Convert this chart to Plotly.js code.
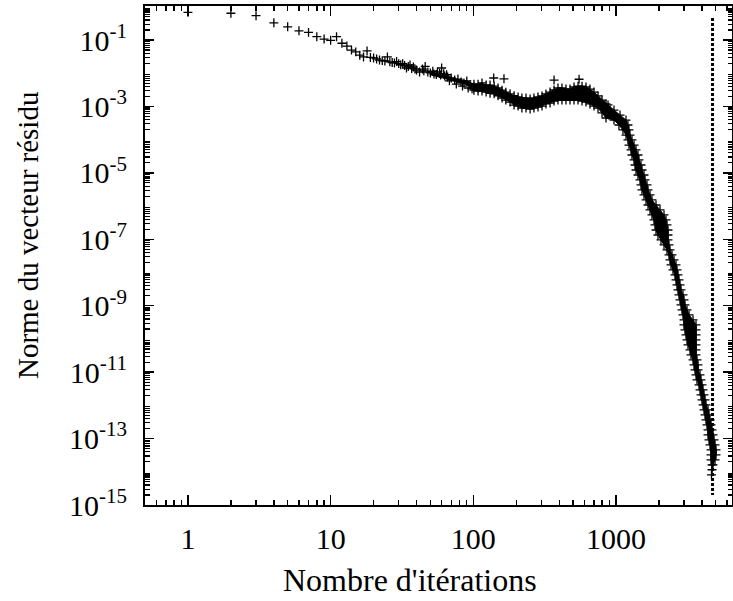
<!DOCTYPE html>
<html>
<head>
<meta charset="utf-8">
<script src="https://cdn.plot.ly/plotly-3.0.1.min.js"></script>
<style>html,body{margin:0;padding:0;background:#fff}#chart{width:733px;height:601px}</style>
</head>
<body>
<div id="chart"></div>
<script>
// Early iterations (individually visible crosses)
const earlyIter = [1,2,3,4,5,6,7,8,9,10,11,12,13,14,15,16,17,18,19,20,
  21,22,23,24,25,26,27,28,29,30,31,32,33,34,35,36,37,38,39,40,
  42,44,45,46,48,50,52,53,55,56,58,59,60,62,63,65,66,68,70,74,
  76,78,82,84,86,90,92,95,98];
const earlyRes = [0.68,0.64,0.54,0.33,0.25,0.19,0.17,0.126,0.107,0.098,0.126,0.080,0.066,0.050,0.044,0.035,0.031,0.047,0.030,0.029,
  0.027,0.025,0.024,0.0234,0.031,0.022,0.021,0.0204,0.0225,0.0195,0.0180,0.0195,0.0170,0.0144,0.0160,0.0177,0.0140,0.0154,0.0135,0.0125,
  0.0109,0.0134,0.0118,0.0160,0.0109,0.0102,0.0115,0.0095,0.0092,0.0109,0.0098,0.0089,0.0144,0.0096,0.0083,0.0090,0.0077,0.0059,0.0072,0.0063,
  0.0047,0.0067,0.0055,0.0041,0.0051,0.0059,0.0036,0.0044,0.0034];

// Plateau region (upper / middle / lower of the dense band), plus a few spikes
const plateauIter = [
  101,101,101, 108,108,108, 115,115,115, 123,123,123, 131,131,131,
  140,140,140, 149,149,149, 159,159,159, 169,169,169, 181,181,181,
  193,193,193, 206,206,206, 219,219,219, 234,234,234, 250,250,250,
  266,266,266, 284,284,284, 303,303,303, 323,323,323, 345,345,345,
  368,368,368, 392,392,392, 418,418,418, 446,446,446, 476,476,476,
  508,508,508, 542,542,542, 578,578,578, 616,616,616, 657,657,657,
  701,701,701, 748,748,748, 798,798,798, 851,851,851,
  139, 164, 368, 551];
const plateauRes = [
  4.7e-3,3.85e-3,3.1e-3, 4.7e-3,3.6e-3,2.9e-3, 5.1e-3,3.85e-3,2.9e-3, 4.4e-3,3.35e-3,2.7e-3, 4.4e-3,3.35e-3,2.5e-3,
  4.1e-3,3.1e-3,2.4e-3, 3.6e-3,2.7e-3,2.1e-3, 3.1e-3,2.4e-3,1.8e-3, 2.7e-3,2.1e-3,1.56e-3, 2.4e-3,1.8e-3,1.36e-3,
  2.1e-3,1.56e-3,1.1e-3, 1.93e-3,1.4e-3,1.03e-3, 1.8e-3,1.27e-3,9.0e-4, 1.8e-3,1.27e-3,9.0e-4, 1.68e-3,1.19e-3,8.4e-4,
  1.8e-3,1.27e-3,9.0e-4, 1.93e-3,1.36e-3,9.6e-4, 2.07e-3,1.46e-3,1.03e-3, 2.37e-3,1.68e-3,1.19e-3, 2.72e-3,1.86e-3,1.27e-3,
  3.13e-3,2.14e-3,1.46e-3, 3.6e-3,2.37e-3,1.56e-3, 3.6e-3,2.37e-3,1.56e-3, 3.35e-3,2.3e-3,1.56e-3, 3.35e-3,2.3e-3,1.56e-3,
  3.85e-3,2.45e-3,1.56e-3, 4.1e-3,2.54e-3,1.56e-3, 4.1e-3,2.45e-3,1.46e-3, 3.85e-3,2.3e-3,1.36e-3, 3.35e-3,2.0e-3,1.19e-3,
  2.72e-3,1.68e-3,1.03e-3, 2.07e-3,1.36e-3,9.0e-4, 1.56e-3,1.03e-3,6.4e-4, 1.19e-3,7.3e-4,4.5e-4,
  7.2e-3, 6.8e-3, 6.25e-3, 6.6e-3];

// Steep convergence region (left / right edges of the band at each level)
const steepIter = [
  824,879, 851,908,968, 893,976,1067, 968,1067,1175, 1049,1129,1213, 1119,1175,1233,
  1175,1253, 1213,1294, 1233,1337, 1274,1381, 1294,1426, 1337,1449, 1359,1497, 1381,1521,
  1426,1571, 1473,1597, 1497,1649, 1521,1676, 1571,1731, 1623,1787,
  1676,1787,1907, 1731,1876,2034, 1787,1969,2170, 1846,2034,2241, 1876,2067,2277, 1907,2101,2314,
  1969,2135,2314, 2067,2188,2314,
  2170,2352, 2277,2390, 2352,2469, 2390,2550, 2429,2633, 2509,2676, 2591,2720, 2633,2764,
  2676,2809, 2720,2855, 2764,2948, 2809,2996, 2855,3045, 2901,3145, 2948,3248,
  2996,3222,3465, 2996,3301,3637, 3045,3328,3637, 3095,3355,3637, 3145,3382,3637, 3196,3409,3637,
  3301,3637, 3355,3637, 3465,3696, 3522,3756, 3579,3756, 3637,3879, 3696,3942, 3817,4006,
  3879,4072, 3942,4139, 4006,4206, 4072,4274, 4139,4414, 4206,4486, 4274,4559, 4344,4634,
  4414,4709, 4414,4786, 4486,4864, 4559,4943, 4634,5023, 4634,5023, 4634,4943, 4709,4786,
  4709, 4670];
const steepRes = [
  1.11e-3,1.11e-3, 7.8e-4,7.8e-4,7.8e-4, 5.5e-4,5.5e-4,5.5e-4, 3.9e-4,3.9e-4,3.9e-4, 2.77e-4,2.77e-4,2.77e-4, 1.96e-4,1.96e-4,1.96e-4,
  1.38e-4,1.38e-4, 9.8e-5,9.8e-5, 6.9e-5,6.9e-5, 4.9e-5,4.9e-5, 3.46e-5,3.46e-5, 2.45e-5,2.45e-5, 1.73e-5,1.73e-5, 1.22e-5,1.22e-5,
  8.65e-6,8.65e-6, 6.12e-6,6.12e-6, 4.33e-6,4.33e-6, 3.06e-6,3.06e-6, 2.17e-6,2.17e-6, 1.53e-6,1.53e-6,
  1.08e-6,1.08e-6,1.08e-6, 7.66e-7,7.66e-7,7.66e-7, 5.42e-7,5.42e-7,5.42e-7, 3.83e-7,3.83e-7,3.83e-7, 2.71e-7,2.71e-7,2.71e-7, 1.91e-7,1.91e-7,1.91e-7,
  1.35e-7,1.35e-7,1.35e-7, 9.58e-8,9.58e-8,9.58e-8,
  6.77e-8,6.77e-8, 4.79e-8,4.79e-8, 3.39e-8,3.39e-8, 2.40e-8,2.40e-8, 1.69e-8,1.69e-8, 1.20e-8,1.20e-8, 8.48e-9,8.48e-9, 6.00e-9,6.00e-9,
  4.24e-9,4.24e-9, 3.00e-9,3.00e-9, 2.12e-9,2.12e-9, 1.50e-9,1.50e-9, 1.06e-9,1.06e-9, 7.50e-10,7.50e-10, 5.30e-10,5.30e-10,
  3.75e-10,3.75e-10,3.75e-10, 2.65e-10,2.65e-10,2.65e-10, 1.87e-10,1.87e-10,1.87e-10, 1.33e-10,1.33e-10,1.33e-10, 9.38e-11,9.38e-11,9.38e-11, 6.63e-11,6.63e-11,6.63e-11,
  4.69e-11,4.69e-11, 3.32e-11,3.32e-11, 2.35e-11,2.35e-11, 1.66e-11,1.66e-11, 1.17e-11,1.17e-11, 8.30e-12,8.30e-12, 5.87e-12,5.87e-12, 4.15e-12,4.15e-12,
  2.93e-12,2.93e-12, 2.07e-12,2.07e-12, 1.47e-12,1.47e-12, 1.04e-12,1.04e-12, 7.34e-13,7.34e-13, 5.19e-13,5.19e-13, 3.67e-13,3.67e-13, 2.60e-13,2.60e-13,
  1.84e-13,1.84e-13, 1.30e-13,1.30e-13, 9.18e-14,9.18e-14, 6.49e-14,6.49e-14, 4.59e-14,4.59e-14, 3.25e-14,3.25e-14, 2.30e-14,2.30e-14, 1.62e-14,1.62e-14,
  1.15e-14, 8.12e-15];

// Envelope of the dense point cloud (upper/right edge and lower/left edge)
const bandUpperIter = [50,70,90,101,108,115,123,131,140,149,159,169,181,193,206,219,234,250,266,284,303,323,345,368,392,418,446,476,508,542,578,616,657,701,748,798,851,
  879,968,1067,1175,1213,1233,1253,1294,1337,1381,1426,1449,1497,1521,1571,1597,1649,1676,1731,1787,1907,2034,2170,2241,2277,2314,2314,2314,
  2352,2390,2469,2550,2633,2676,2720,2764,2809,2855,2948,2996,3045,3145,3248,3465,3637,3637,3637,3637,3637,3637,3637,3696,3756,3756,
  3879,3942,4006,4072,4139,4206,4274,4414,4486,4559,4634,4709,4786,4864,4943,5023,5023,4943,4786,4709,4670];
const bandUpperRes = [0.0105,0.0072,0.0059,4.7e-3,4.7e-3,5.1e-3,4.4e-3,4.4e-3,4.1e-3,3.6e-3,3.1e-3,2.7e-3,2.4e-3,2.1e-3,1.93e-3,1.8e-3,1.8e-3,1.68e-3,1.8e-3,1.93e-3,2.07e-3,2.37e-3,2.72e-3,3.13e-3,3.6e-3,3.6e-3,3.35e-3,3.35e-3,3.85e-3,4.1e-3,4.1e-3,3.85e-3,3.35e-3,2.72e-3,2.07e-3,1.56e-3,1.19e-3,
  1.11e-3,7.8e-4,5.5e-4,3.9e-4,2.77e-4,1.96e-4,1.38e-4,9.8e-5,6.9e-5,4.9e-5,3.46e-5,2.45e-5,1.73e-5,1.22e-5,8.65e-6,6.12e-6,4.33e-6,3.06e-6,2.17e-6,1.53e-6,1.08e-6,7.66e-7,5.42e-7,3.83e-7,2.71e-7,1.91e-7,1.35e-7,9.58e-8,
  6.77e-8,4.79e-8,3.39e-8,2.40e-8,1.69e-8,1.20e-8,8.48e-9,6.00e-9,4.24e-9,3.00e-9,2.12e-9,1.50e-9,1.06e-9,7.50e-10,5.30e-10,3.75e-10,2.65e-10,1.87e-10,1.33e-10,9.38e-11,6.63e-11,4.69e-11,3.32e-11,2.35e-11,1.66e-11,1.17e-11,
  8.30e-12,5.87e-12,4.15e-12,2.93e-12,2.07e-12,1.47e-12,1.04e-12,7.34e-13,5.19e-13,3.67e-13,2.60e-13,1.84e-13,1.30e-13,9.18e-14,6.49e-14,4.59e-14,3.25e-14,2.30e-14,1.62e-14,1.15e-14,8.12e-15];
const bandLowerIter = [50,70,90,101,108,115,123,131,140,149,159,169,181,193,206,219,234,250,266,284,303,323,345,368,392,418,446,476,508,542,578,616,657,701,748,798,851,
  968,1049,1119,1175,1213,1233,1274,1294,1337,1359,1381,1426,1473,1497,1521,1571,1623,1676,1731,1787,1846,1876,1907,1969,2067,
  2170,2277,2352,2390,2429,2509,2591,2633,2676,2720,2764,2809,2855,2901,2948,2996,2996,3045,3095,3145,3196,3301,3355,3465,3522,3579,
  3637,3696,3817,3879,3942,4006,4072,4139,4206,4274,4344,4414,4414,4486,4559,4634,4634,4634,4709,4709,4670];
const bandLowerRes = [0.0090,0.0062,0.0045,3.1e-3,2.9e-3,2.9e-3,2.7e-3,2.5e-3,2.4e-3,2.1e-3,1.8e-3,1.56e-3,1.36e-3,1.1e-3,1.03e-3,9.0e-4,9.0e-4,8.4e-4,9.0e-4,9.6e-4,1.03e-3,1.19e-3,1.27e-3,1.46e-3,1.56e-3,1.56e-3,1.56e-3,1.56e-3,1.56e-3,1.56e-3,1.46e-3,1.36e-3,1.19e-3,1.03e-3,9.0e-4,6.4e-4,4.5e-4,
  3.9e-4,2.77e-4,1.96e-4,1.38e-4,9.8e-5,6.9e-5,4.9e-5,3.46e-5,2.45e-5,1.73e-5,1.22e-5,8.65e-6,6.12e-6,4.33e-6,3.06e-6,2.17e-6,1.53e-6,1.08e-6,7.66e-7,5.42e-7,3.83e-7,2.71e-7,1.91e-7,1.35e-7,9.58e-8,
  6.77e-8,4.79e-8,3.39e-8,2.40e-8,1.69e-8,1.20e-8,8.48e-9,6.00e-9,4.24e-9,3.00e-9,2.12e-9,1.50e-9,1.06e-9,7.50e-10,5.30e-10,3.75e-10,2.65e-10,1.87e-10,1.33e-10,9.38e-11,6.63e-11,4.69e-11,3.32e-11,2.35e-11,1.66e-11,1.17e-11,
  8.30e-12,5.87e-12,4.15e-12,2.93e-12,2.07e-12,1.47e-12,1.04e-12,7.34e-13,5.19e-13,3.67e-13,2.60e-13,1.84e-13,1.30e-13,9.18e-14,6.49e-14,4.59e-14,3.25e-14,2.30e-14,1.62e-14,1.15e-14,8.12e-15];

// Vertical dotted marker line
const limitIter = [4750, 4750];
const limitRes = [0.46, 2.0e-15];

// Axis ticks
const xTickVals = [1, 10, 100, 1000];
const xTickText = ['1', '10', '100', '1000'];
const yLabelExponents = [-15,-13,-11,-9,-7,-5,-3,-1];
const yPlainExponents = [-14,-12,-10,-8,-6,-4,-2,0];
const yAllExponents = [-15,-14,-13,-12,-11,-10,-9,-8,-7,-6,-5,-4,-3,-2,-1,0];

const iterations = earlyIter.concat(plateauIter, steepIter);
const residuals = earlyRes.concat(plateauRes, steepRes);
const envIter = bandUpperIter.concat(bandLowerIter.slice().reverse());
const envRes = bandUpperRes.concat(bandLowerRes.slice().reverse());

const yTickVals = yLabelExponents.map(e => Math.pow(10, e));
const yTickText = yLabelExponents.map(e => '10<sup>' + e + '</sup>');
const xMinor = [];
[0.1, 1, 10, 100, 1000].forEach(d => { for (let k = 2; k <= 9; k++) xMinor.push(k * d); });
const yMinor = [];
yAllExponents.forEach(e => { for (let k = 2; k <= 9; k++) yMinor.push(k * Math.pow(10, e)); });

const FONT = 'Liberation Serif, Times New Roman, serif';
const YRANGE = [-15.0, 0.025];
const PLOT_W = 733 - 145 - 1;

// unlabeled major ticks at even decades (left side and mirrored right side)
const tickShapes = [];
yPlainExponents.forEach(e => {
  if (e > YRANGE[1]) return;
  tickShapes.push({type: 'line', xref: 'paper', yref: 'y', x0: 0, x1: 9 / PLOT_W, y0: e, y1: e,
    line: {color: '#000', width: 1.4}});
  tickShapes.push({type: 'line', xref: 'paper', yref: 'y', x0: 1 - 9 / PLOT_W, x1: 1, y0: e, y1: e,
    line: {color: '#000', width: 1.4}});
});

const traces = [
  {
    x: envIter, y: envRes, type: 'scatter', mode: 'lines', fill: 'toself',
    fillcolor: '#000', line: {color: '#000', width: 1},
    hoverinfo: 'skip', showlegend: false
  },
  {
    x: iterations, y: residuals, type: 'scatter', mode: 'markers',
    marker: {symbol: 'cross-thin', size: 6.4, color: '#000', line: {color: '#000', width: 1.3}},
    hoverinfo: 'x+y', showlegend: false
  },
  {
    x: limitIter, y: limitRes, type: 'scatter', mode: 'lines',
    line: {color: '#000', width: 3, dash: '3px,2px'},
    hoverinfo: 'skip', showlegend: false
  }
];

const layout = {
  width: 733, height: 601,
  margin: {l: 145, r: 1, t: 6, b: 96},
  paper_bgcolor: '#fff', plot_bgcolor: '#fff',
  font: {family: FONT, color: '#000', size: 30},
  showlegend: false,
  xaxis: {
    type: 'log', range: [Math.log10(0.5), 3.813],
    tickmode: 'array', tickvals: xTickVals, ticktext: xTickText,
    ticks: 'inside', ticklen: 10, tickwidth: 1.4, tickcolor: '#000',
    minor: {tickmode: 'array', tickvals: xMinor, ticks: 'inside', ticklen: 5, tickwidth: 1.4, tickcolor: '#000', showgrid: false},
    showline: true, linecolor: '#000', linewidth: 2, mirror: 'allticks',
    showgrid: false, zeroline: false,
    tickfont: {family: FONT, size: 30, color: '#000'},
    ticklabelstandoff: 6
  },
  yaxis: {
    type: 'log', range: YRANGE,
    tickmode: 'array', tickvals: yTickVals, ticktext: yTickText,
    ticks: 'inside', ticklen: 9, tickwidth: 1.4, tickcolor: '#000',
    minor: {tickmode: 'array', tickvals: yMinor, ticks: 'inside', ticklen: 4.5, tickwidth: 1.2, tickcolor: '#000', showgrid: false},
    showline: true, linecolor: '#000', linewidth: 2, mirror: 'allticks',
    showgrid: false, zeroline: false,
    tickfont: {family: FONT, size: 30, color: '#000'},
    ticklabelstandoff: 10
  },
  shapes: tickShapes,
  annotations: [
    {text: "Nombre d'itérations", xref: 'paper', yref: 'paper', x: 0.4506, y: -0.150,
     xanchor: 'center', yanchor: 'middle', showarrow: false, font: {family: FONT, size: 32, color: '#000'}},
    {text: 'Norme du vecteur résidu', xref: 'paper', yref: 'paper', x: -0.1993, y: 0.539,
     xanchor: 'center', yanchor: 'middle', textangle: -90, showarrow: false, font: {family: FONT, size: 29, color: '#000'}}
  ]
};

Plotly.newPlot('chart', traces, layout, {staticPlot: true, displayModeBar: false});
</script>
</body>
</html>
